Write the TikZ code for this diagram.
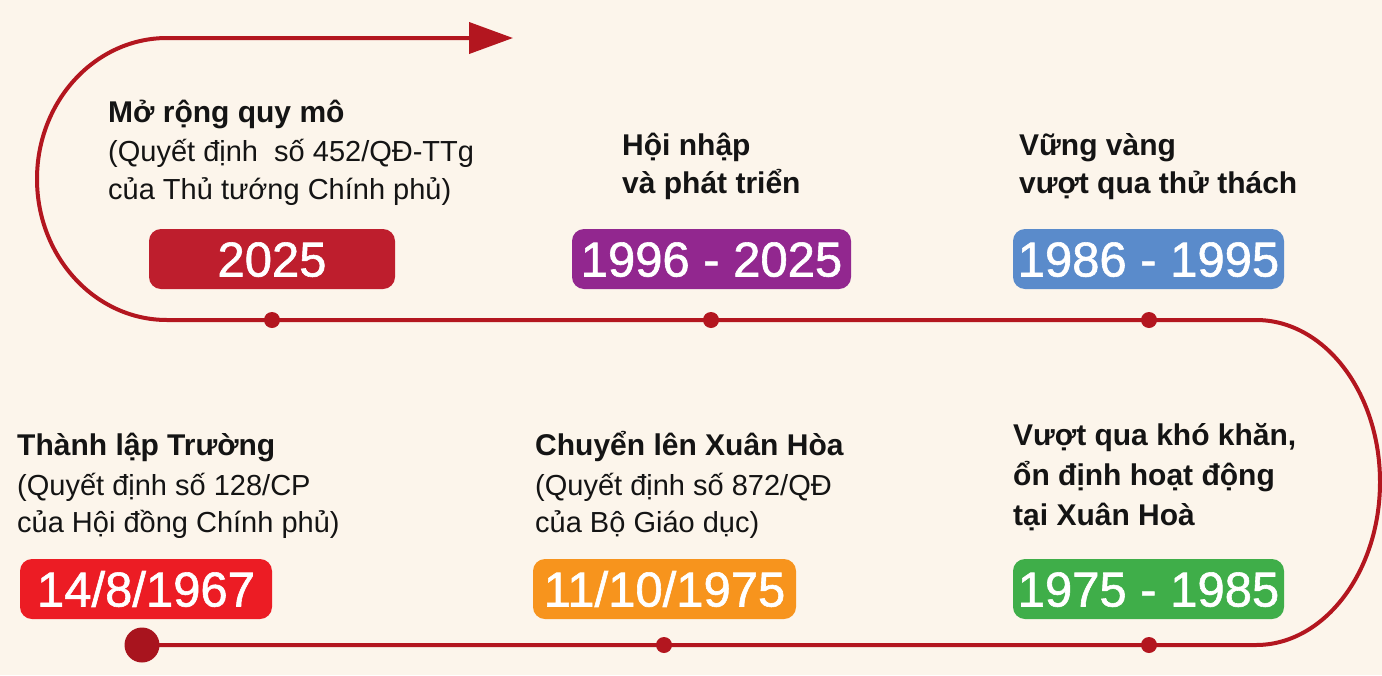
\documentclass[tikz,border=0pt]{standalone}
\usepackage{fontspec}
\setmainfont{Liberation Sans}
\newfontfamily\numfont[FakeBold=1.2]{Liberation Sans}
\usetikzlibrary{arrows.meta}
\definecolor{bg}{HTML}{FCF5EB}
\definecolor{route}{HTML}{B3161F}
\definecolor{bigdot}{HTML}{A8141E}
\definecolor{cRed}{HTML}{BE1E2D}
\definecolor{cPurple}{HTML}{92278F}
\definecolor{cBlue}{HTML}{5A8BCB}
\definecolor{cBright}{HTML}{EC1C24}
\definecolor{cOrange}{HTML}{F7941D}
\definecolor{cGreen}{HTML}{3FAE49}
\definecolor{ink}{HTML}{141414}
\begin{document}
\begin{tikzpicture}[x=1pt,y=-1pt,
  title/.style={anchor=base west, inner sep=0pt, text=ink, font=\fontsize{30}{36}\selectfont\bfseries},
  body/.style={anchor=base west, inner sep=0pt, text=ink, font=\fontsize{29}{36}\selectfont},
  yearbox/.style={rounded corners=12pt, inner sep=0pt, text=white, font=\numfont\fontsize{49}{60}\selectfont, text height=35pt, text depth=0pt, minimum height=60pt},
  dot/.style={circle, fill=route, inner sep=0pt, minimum size=16pt},
  routeline/.style={draw=route, line width=4pt}]
\useasboundingbox (0,0) rectangle (1382,675);
\fill[bg] (0,0) rectangle (1382,675);

% route coordinates
\coordinate (start) at (142,645);
\coordinate (rb) at (1256,645);
\coordinate (rr) at (1380,482);
\coordinate (rt) at (1256,320);
\coordinate (lb) at (167,320);
\coordinate (ll) at (37,179);
\coordinate (lt) at (167,38);
\coordinate (tip) at (513,38);

\draw[routeline, -{Triangle[length=44pt,width=31pt]}]
  (start) -- (rb)
  .. controls ++(68.5,0) and ++(0,89.5) .. (rr)
  .. controls ++(0,-89.5) and ++(68.5,0) .. (rt)
  -- (lb)
  .. controls ++(-71.8,0) and ++(0,77.9) .. (ll)
  .. controls ++(0,-77.9) and ++(-71.8,0) .. (lt)
  -- (tip);

% dots
\node[dot] (d1) at (272,320) {};
\node[dot] (d2) at (711,320) {};
\node[dot] (d3) at (1149,320) {};
\node[dot] (d4) at (664,645) {};
\node[dot] (d5) at (1149,645) {};
\node[circle, fill=bigdot, inner sep=0pt, minimum size=35pt] (d0) at (start) {};

% year boxes
\node[yearbox, fill=cRed, minimum width=246pt] (b2025) at (272,259) {2025};
\node[yearbox, fill=cPurple, minimum width=279pt] (b1996) at (711.5,259) {1996 - 2025};
\node[yearbox, fill=cBlue, minimum width=271pt] (b1986) at (1148.5,259) {1986 - 1995};
\node[yearbox, fill=cBright, minimum width=252pt] (b1967) at (146,589) {14/8/1967};
\node[yearbox, fill=cOrange, minimum width=263pt] (b1975a) at (664.5,589) {11/10/1975};
\node[yearbox, fill=cGreen, minimum width=271pt] (b1975b) at (1148.5,589) {1975 - 1985};

% texts top row
\node[title] (t1a) at (108,122) {Mở rộng quy mô};
\node[body] (t1b) at (108,161) {(Quyết định\ \ số 452/QĐ-TTg};
\node[body] (t1c) at (108,199) {của Thủ tướng Chính phủ)};

\node[title] (t2a) at (622,155) {Hội nhập};
\node[title] (t2b) at (622,193) {và phát triển};

\node[title] (t3a) at (1019,155) {Vững vàng};
\node[title] (t3b) at (1019,193) {vượt qua thử thách};

% texts bottom row
\node[title] (t4a) at (17,455) {Thành lập Trường};
\node[body] (t4b) at (17,495) {(Quyết định số 128/CP};
\node[body] (t4c) at (17,532) {của Hội đồng Chính phủ)};

\node[title] (t5a) at (535,455) {Chuyển lên Xuân Hòa};
\node[body] (t5b) at (535,495) {(Quyết định số 872/QĐ};
\node[body] (t5c) at (535,532) {của Bộ Giáo dục)};

\node[title] (t6a) at (1013,445) {Vượt qua khó khăn,};
\node[title] (t6b) at (1013,485) {ổn định hoạt động};
\node[title] (t6c) at (1013,525) {tại Xuân Hoà};
\end{tikzpicture}
\end{document}
